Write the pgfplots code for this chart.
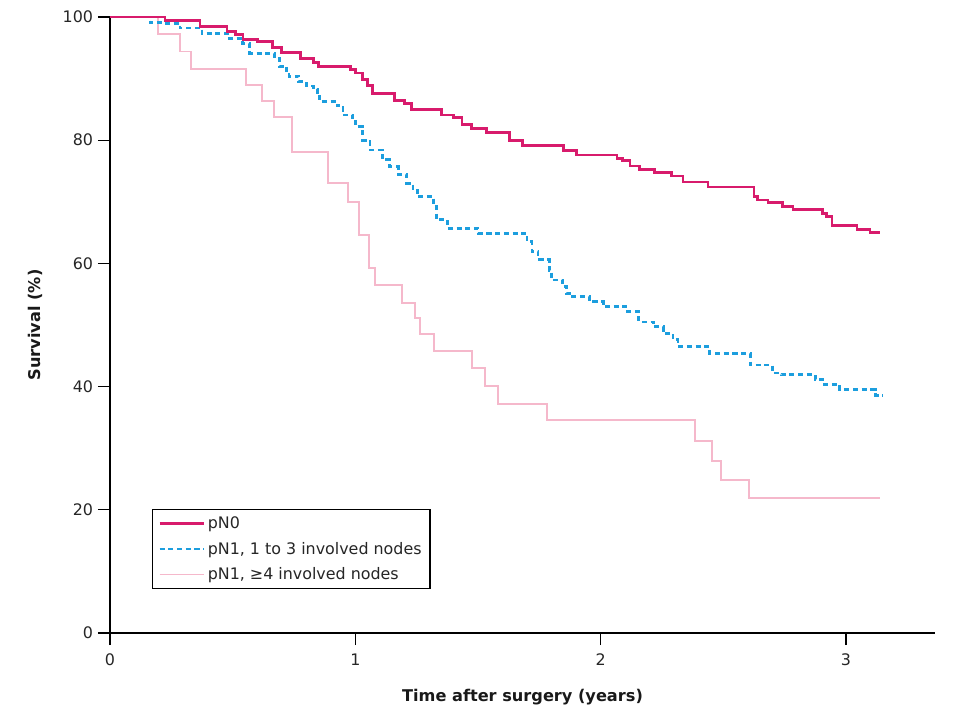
\documentclass[border=0pt]{standalone}
\usepackage{fontspec}
\setmainfont{DejaVu Sans}
\usepackage{pgfplots}
\pgfplotsset{compat=1.18}

\definecolor{nzero}{RGB}{216,27,108}
\definecolor{nthree}{RGB}{28,158,222}
\definecolor{nfour}{RGB}{245,184,203}

\begin{document}
\begin{tikzpicture}
% page frame, 975x707 px at 0.025cm per px
\useasboundingbox (-2.75,-1.85) rectangle (21.625,15.825);
\begin{axis}[
    at={(0,0)}, anchor=south west,
    scale only axis,
    width=20.625cm, height=15.4cm,
    xmin=0, xmax=3.363, ymin=0, ymax=100,
    axis x line=bottom, axis y line=left,
    axis line style={-, black, line width=1.1pt},
    xtick={0,1,2,3}, ytick={0,20,40,60,80,100},
    tick align=outside, major tick length=0.3cm,
    tick style={black, line width=0.8pt},
    /pgf/number format/assume math mode=true,
    tick label style={font=\fontsize{11.3}{13}\selectfont, text=black!85},
    xticklabel style={yshift=-0.1cm},
    xlabel={\textbf{Time after surgery (years)}},
    ylabel={\textbf{Survival (\%)}},
    label style={font=\fontsize{11.5}{13}\selectfont, text=black!90},
    xlabel style={yshift=-0.35cm},
    ylabel style={yshift=0.25cm},
    clip=false,
    legend style={at={(axis cs:0.171,20.1)}, anchor=north west,
        draw=black, line width=0.9pt, font=\fontsize{11.3}{13}\selectfont,
        row sep=4pt, inner xsep=4pt, inner ysep=3pt, text=black!85},
    legend cell align=left,
    legend image code/.code={\draw[#1] (0cm,0cm) -- (1.1cm,0cm);},
]
% pN1, >=4 involved nodes
\addplot[const plot, color=nfour, line width=1.4pt, forget plot] coordinates {
(0,100) (0.196,97.3) (0.285,94.4) (0.33,91.6) (0.555,89.0) (0.62,86.3)
(0.67,83.8) (0.74,78.1) (0.89,73.0) (0.97,70.0) (1.015,64.6) (1.055,59.2)
(1.08,56.5) (1.19,53.6) (1.245,51.1) (1.265,48.6) (1.32,45.8) (1.475,43.0)
(1.53,40.1) (1.58,37.2) (1.78,34.6) (2.385,31.2) (2.455,28.0) (2.49,24.8)
(2.605,21.9) (3.139,21.9)
};
% pN1, 1 to 3 involved nodes
\addplot[const plot, color=nthree, line width=2pt, dash pattern=on 3.6pt off 2.6pt, forget plot] coordinates {
(0,100) (0.163,99.1) (0.23,99.0) (0.285,98.2) (0.375,97.3) (0.48,96.5)
(0.54,95.7) (0.57,94.1) (0.67,93.3) (0.69,92.0) (0.72,90.9) (0.73,90.4)
(0.77,89.5) (0.80,88.8) (0.83,88.3) (0.845,87.1) (0.855,86.3) (0.925,85.6)
(0.95,84.1) (0.99,83.3) (1.00,82.2) (1.03,80.0) (1.06,78.4) (1.11,76.8)
(1.14,75.7) (1.175,74.4) (1.21,73.0) (1.235,71.9) (1.255,70.8) (1.32,69.2)
(1.33,67.1) (1.375,65.7) (1.50,64.9) (1.70,63.5) (1.72,61.9) (1.745,60.6)
(1.79,58.9) (1.80,57.3) (1.845,56.2) (1.86,55.1) (1.875,54.6) (1.955,53.8)
(2.01,53.0) (2.11,52.2) (2.155,50.5) (2.215,49.7) (2.255,48.6) (2.295,47.6)
(2.315,46.5) (2.445,45.4) (2.61,43.5) (2.70,42.2) (2.735,41.9) (2.875,41.1)
(2.906,40.3) (2.975,39.5) (3.12,38.6) (3.15,38.6)
};
% pN0
\addplot[const plot, color=nzero, line width=2pt, forget plot] coordinates {
(0,100) (0.224,99.4) (0.367,98.4) (0.477,97.6) (0.51,97.1) (0.542,96.3)
(0.60,96.0) (0.664,95.1) (0.70,94.2) (0.775,93.3) (0.83,92.6) (0.85,91.9)
(0.98,91.5) (1.0,90.9) (1.03,89.8) (1.05,88.9) (1.07,87.6) (1.16,86.5)
(1.2,86.0) (1.23,85.0) (1.35,84.1) (1.40,83.7) (1.435,82.5) (1.475,81.9)
(1.535,81.2) (1.63,80.0) (1.68,79.1) (1.85,78.3) (1.90,77.6) (2.067,77.0)
(2.09,76.7) (2.12,75.8) (2.16,75.3) (2.22,74.7) (2.29,74.2) (2.336,73.2)
(2.438,72.4) (2.625,70.8) (2.638,70.3) (2.682,69.9) (2.74,69.2) (2.784,68.7)
(2.906,68.1) (2.92,67.6) (2.943,66.1) (3.045,65.5) (3.098,65.0) (3.139,65.0)
};
% legend entries in the reference's order
\addlegendimage{color=nzero, line width=2pt}
\addlegendentry{pN0}
\addlegendimage{color=nthree, line width=2pt, dash pattern=on 3.6pt off 2.6pt}
\addlegendentry{pN1, 1 to 3 involved nodes}
\addlegendimage{color=nfour, line width=1.4pt}
\addlegendentry{pN1, ≥4 involved nodes}
\end{axis}
\end{tikzpicture}
\end{document}
